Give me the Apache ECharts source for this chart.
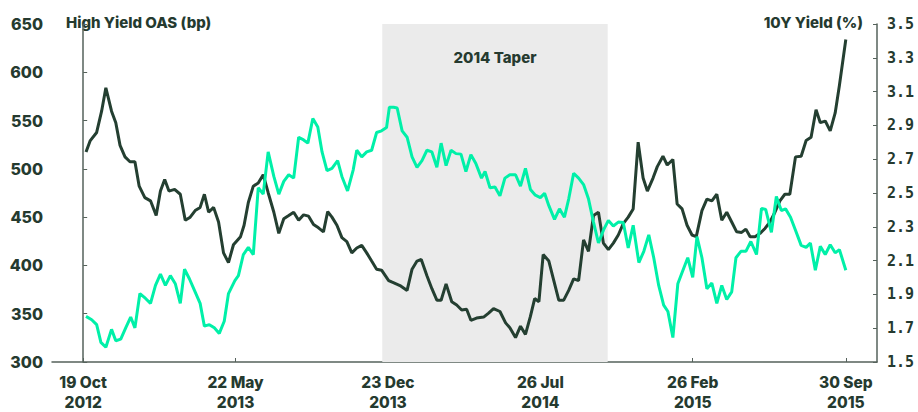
<!DOCTYPE html>
<html>
<head>
<meta charset="utf-8">
<script src="https://cdn.jsdelivr.net/npm/echarts@6/dist/echarts.min.js"></script>
<style>
  html, body { margin: 0; padding: 0; background: #ffffff; }
  #chart { width: 918px; height: 412px; }
</style>
</head>
<body>
<div id="chart"></div>
<script>
// x values: days since 19 Oct 2012
const hyDays = [4,10,19,26,32,40,46,52,59,66,73,79,87,95,103,109,115,121,129,137,144,151,158,165,171,177,184,191,198,205,212,222,227,233,240,247,254,261,269,276,283,290,297,304,311,318,325,332,339,345,351,358,365,372,379,386,393,400,407,414,421,431,436,447,457,464,471,477,485,492,499,505,512,520,527,534,541,547,555,565,572,579,588,596,602,610,617,624,631,637,643,649,657,664,671,678,685,692,699,706,713,720,727,734,741,748,755,762,769,776,783,790,796,804,810,818,824,832,838,845,852,859,865,873,880,887,894,901,908,915,922,929,935,941,948,955,962,969,976,983,990,997,1005,1013,1020,1027,1034,1040,1047,1054,1061,1067,1076];
const hyOas = [517.5,529.3,537.7,559.7,583.9,559.7,547.8,524.3,512.4,507.4,507.4,482.1,470.2,466.9,451.7,477,488.9,477,478.7,473.7,446.7,450,456.8,460.1,473.7,455.1,460.1,445,413,402.9,421.4,429.8,441.6,465.2,482.1,485.4,493.9,475.3,455.1,433.2,448.4,451.7,455.1,446.7,452.4,451,442.3,438.9,434.8,455.8,450,441.6,428.8,424.7,413,418,420.7,413,404.5,396.1,395.1,384.3,382.6,379.2,374.1,396.1,404.5,406.2,389.3,375.9,364,364,380.9,362.4,359,353.9,354.6,343.2,345.5,346.5,350.6,355.3,352.3,340.5,335.4,325.3,337.1,328.6,347.2,365.7,362.4,411.3,404.5,384.3,364,364,374.1,386,384.3,426.4,414.6,451.7,455.1,423.1,416.3,423.1,431.5,443.3,450,458.5,527.6,490.5,477,490.5,502.3,513.1,504,509.7,463.6,458.5,441.6,431.5,429.8,456.8,468.6,466.9,473.7,446.7,455.1,445,434.8,434.2,437.6,429.8,429.8,433.2,438.3,445,455.1,466.9,473.7,473.7,512.4,513.1,529.3,532.7,561.3,547.8,549.5,539.4,557.9,586.6,634];

const ylDays = [4,12,19,25,32,40,46,53,60,67,73,80,88,95,102,109,116,123,130,137,143,150,157,165,171,178,185,192,199,205,214,219,226,233,240,247,254,261,269,276,283,290,297,304,311,317,324,331,337,344,351,359,365,373,381,386,393,400,407,414,421,428,432,438,443,450,457,464,471,478,485,492,499,505,512,519,526,533,540,547,554,562,567,574,581,588,595,602,610,617,624,631,638,645,651,657,665,672,679,685,692,699,706,713,720,727,734,741,748,755,762,769,776,784,791,798,805,812,819,825,832,839,845,853,860,866,873,880,887,894,901,908,915,921,928,935,942,950,957,963,971,978,985,991,998,1005,1013,1020,1026,1033,1040,1047,1054,1061,1067,1076];
const ylYield = [1.770,1.750,1.721,1.616,1.587,1.693,1.626,1.635,1.702,1.766,1.702,1.905,1.876,1.847,1.953,2.020,1.953,2.011,1.963,1.847,2.049,1.991,1.924,1.847,1.712,1.721,1.702,1.669,1.741,1.905,1.982,2.011,2.136,2.178,2.136,2.531,2.493,2.743,2.598,2.493,2.569,2.608,2.588,2.830,2.814,2.795,2.941,2.891,2.743,2.633,2.646,2.691,2.598,2.512,2.637,2.753,2.714,2.743,2.753,2.858,2.868,2.887,3.007,3.007,3.003,2.868,2.830,2.714,2.652,2.691,2.753,2.743,2.652,2.795,2.662,2.753,2.733,2.730,2.627,2.727,2.675,2.588,2.627,2.531,2.536,2.483,2.588,2.608,2.608,2.541,2.646,2.521,2.487,2.473,2.498,2.425,2.344,2.406,2.357,2.464,2.617,2.588,2.550,2.464,2.328,2.204,2.280,2.338,2.305,2.328,2.325,2.175,2.309,2.088,2.155,2.252,2.117,1.953,1.837,1.799,1.645,1.963,2.030,2.117,2.001,2.242,2.117,1.934,1.967,1.847,1.953,1.870,1.915,2.117,2.155,2.155,2.213,2.136,2.409,2.402,2.267,2.479,2.396,2.406,2.357,2.280,2.190,2.178,2.204,2.043,2.184,2.136,2.194,2.146,2.165,2.043];

const xTickDays = [0, 215, 430, 645, 860, 1076];
const xTickLabels = ['19 Oct\n2012', '22 May\n2013', '23 Dec\n2013', '26 Jul\n2014', '26 Feb\n2015', '30 Sep\n2015'];
const leftTicks = [300, 350, 400, 450, 500, 550, 600, 650];
const rightTicks = [1.5, 1.7, 1.9, 2.1, 2.3, 2.5, 2.7, 2.9, 3.1, 3.3, 3.5];
const taperStartDay = 422;
const taperEndDay = 740;
const taperLabel = '2014 Taper';
const leftAxisTitle = 'High Yield OAS (bp)';
const rightAxisTitle = '10Y Yield (%)';

const DARK = '#243f31';
const MINT = '#00f0a8';
const TEXT = '#253a2f';
const AXIS = '#55625b';
const FONT = 'Inter, "Noto Sans", sans-serif';
const MONO = '"DejaVu Sans Mono", "Liberation Mono", monospace';

const chart = echarts.init(document.getElementById('chart'), null, { renderer: 'svg' });
chart.setOption({
  animation: false,
  backgroundColor: '#ffffff',
  grid: { left: 52, right: 41, top: 24, bottom: 42, containLabel: false },
  xAxis: {
    type: 'value', min: -44, max: 1120,
    axisLine: { show: true, lineStyle: { color: AXIS, width: 1.5 } },
    axisTick: { show: true, inside: true, length: 4, customValues: xTickDays, lineStyle: { color: AXIS } },
    splitLine: { show: false },
    axisLabel: {
      customValues: xTickDays, margin: 10,
      color: TEXT, fontFamily: FONT, fontWeight: 800, fontSize: 15.5, lineHeight: 20,
      formatter: v => { const i = xTickDays.indexOf(v); return i >= 0 ? xTickLabels[i] : ''; }
    }
  },
  yAxis: [
    {
      type: 'value', min: 300, max: 650, position: 'left',
      axisLine: { show: true, lineStyle: { color: AXIS, width: 1.5 } },
      axisTick: { show: true, inside: true, length: 4, customValues: leftTicks, lineStyle: { color: AXIS } },
      splitLine: { show: false },
      axisLabel: { customValues: leftTicks, margin: 9, color: TEXT, fontFamily: FONT, fontWeight: 800, fontSize: 16 }
    },
    {
      type: 'value', min: 1.5, max: 3.5, position: 'right',
      axisLine: { show: true, lineStyle: { color: AXIS, width: 1.5 } },
      axisTick: { show: true, inside: true, length: 4, customValues: rightTicks, lineStyle: { color: AXIS } },
      splitLine: { show: false },
      axisLabel: { customValues: rightTicks, margin: 10, color: TEXT, fontFamily: MONO, fontWeight: 'bold', fontSize: 15,
        formatter: v => v.toFixed(1) }
    }
  ],
  graphic: [
    { type: 'text', left: 66, top: 15, style: { text: leftAxisTitle, fill: TEXT, font: '800 15px ' + FONT } },
    { type: 'text', right: 55, top: 15, style: { text: rightAxisTitle, fill: TEXT, font: '800 15px ' + FONT, textAlign: 'right' } }
  ],
  series: [
    {
      name: leftAxisTitle, type: 'line', yAxisIndex: 0, showSymbol: false, symbol: 'none',
      data: hyDays.map((d, i) => [d, hyOas[i]]),
      lineStyle: { color: DARK, width: 3 }, itemStyle: { color: DARK },
      z: 3,
      markArea: {
        silent: true,
        itemStyle: { color: '#ebebeb' },
        label: { show: true, position: 'insideTop', distance: 26, color: TEXT, fontFamily: FONT, fontWeight: 800, fontSize: 15 },
        data: [[{ xAxis: taperStartDay, name: taperLabel }, { xAxis: taperEndDay }]]
      }
    },
    {
      name: rightAxisTitle, type: 'line', yAxisIndex: 1, showSymbol: false, symbol: 'none',
      data: ylDays.map((d, i) => [d, ylYield[i]]),
      lineStyle: { color: MINT, width: 3 }, itemStyle: { color: MINT },
      z: 4
    }
  ]
});
</script>
</body>
</html>
